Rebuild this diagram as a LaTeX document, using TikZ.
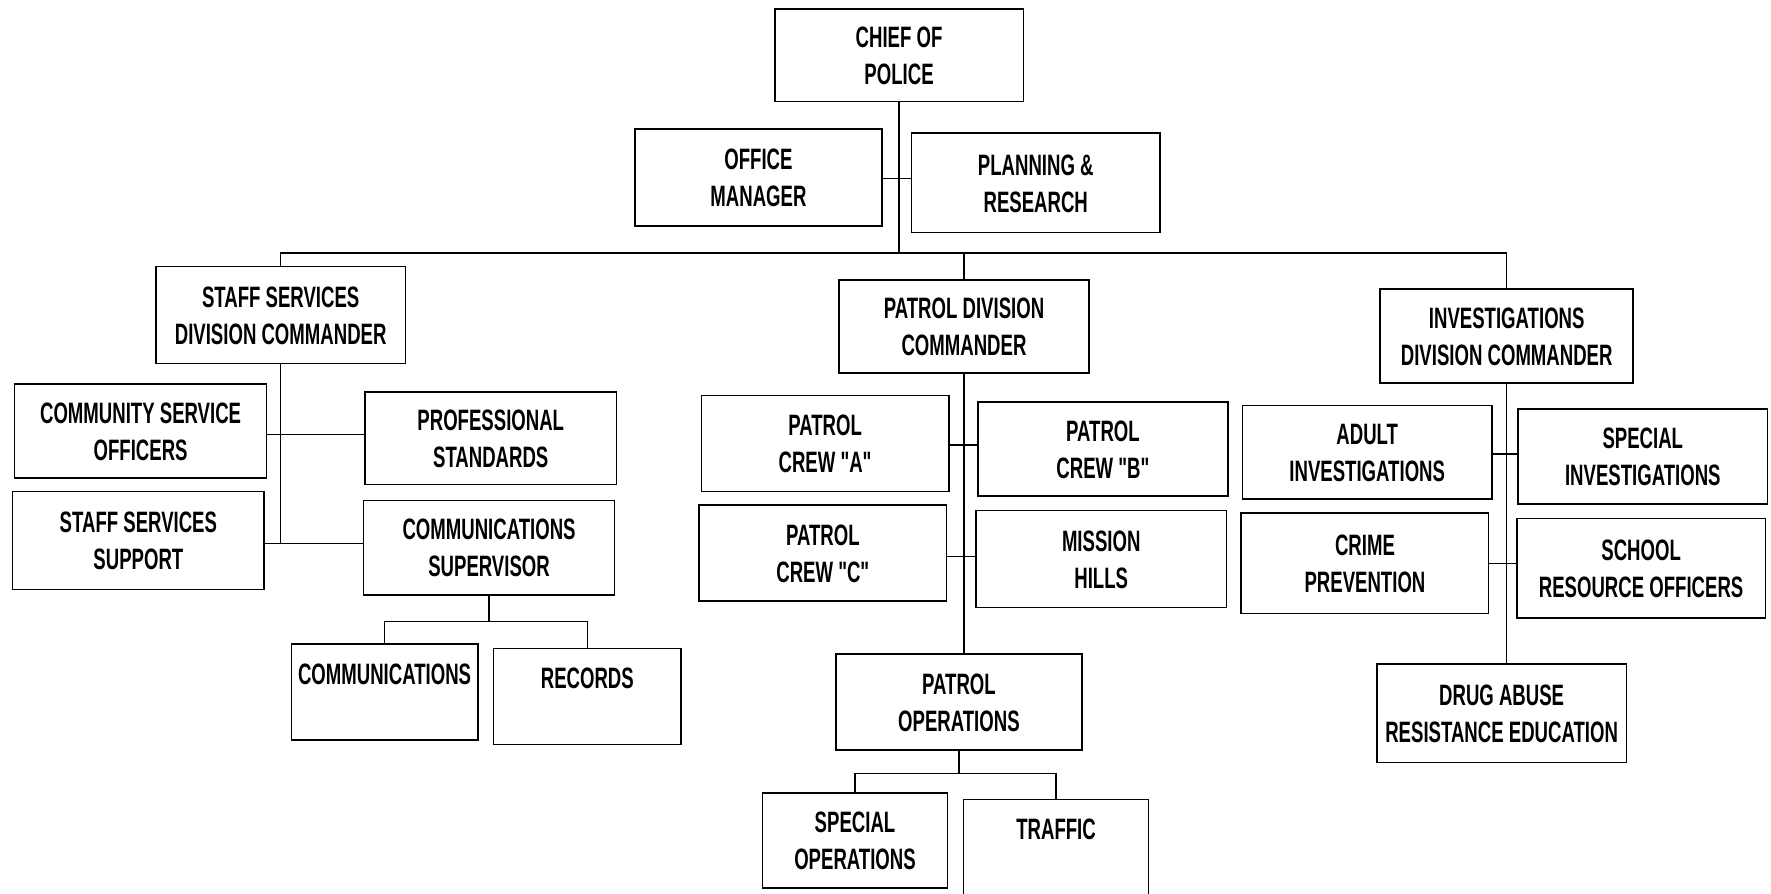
\documentclass[tikz,border=0pt]{standalone}
\usepackage{fontspec}
\newfontfamily\boxfont{Liberation Sans}[FakeStretch=0.63,Ligatures=TeXOff]
\usetikzlibrary{fit}
\newcommand{\orgbox}[4]{%
  \node[box, fit={#1 #2}] (#3) {};
  \node[txt] (#3-t) at ([yshift=-0.5pt]#3.center) {#4};}
\begin{document}
\begin{tikzpicture}[x=1.1295pt,y=-1.1295pt,
  box/.style={draw, line width=1.6pt, inner sep=0pt},
  txt/.style={inner sep=0pt, align=center,
    font=\boxfont\bfseries\fontsize{29.5}{37}\selectfont},
  conn/.style={line width=1.3pt}]
\useasboundingbox (0,0) rectangle (1568,791.5);
% boxes
\orgbox{(686,8)}{(906,90)}{chief}{CHIEF OF\\POLICE}
\orgbox{(562,114)}{(781,200)}{office}{OFFICE\\MANAGER}
\orgbox{(807,118)}{(1027,206)}{plan}{PLANNING \&\\RESEARCH}
\orgbox{(138,236)}{(359,322)}{staff}{STAFF SERVICES\\DIVISION COMMANDER}
\orgbox{(743,248)}{(964,330)}{patrol}{PATROL DIVISION\\COMMANDER}
\orgbox{(1222,256)}{(1446,339)}{inv}{INVESTIGATIONS\\DIVISION COMMANDER}
\orgbox{(13,340)}{(236,423)}{cso}{COMMUNITY SERVICE\\OFFICERS}
\orgbox{(323,347)}{(546,429)}{prof}{PROFESSIONAL\\STANDARDS}
\orgbox{(11,435)}{(234,522)}{sss}{STAFF SERVICES\\SUPPORT}
\orgbox{(322,443)}{(544,527)}{comsup}{COMMUNICATIONS\\SUPERVISOR}
\orgbox{(258,570)}{(423,655)}{comm}{COMMUNICATIONS\\\mbox{}}
\orgbox{(437,574)}{(603,659)}{rec}{RECORDS\\\mbox{}}
\orgbox{(621,350)}{(840,435)}{crewA}{PATROL\\CREW "A"}
\orgbox{(866,356)}{(1087,439)}{crewB}{PATROL\\CREW "B"}
\orgbox{(619,447)}{(838,532)}{crewC}{PATROL\\CREW "C"}
\orgbox{(864,452)}{(1086,538)}{mission}{MISSION\\HILLS}
\orgbox{(740,579)}{(958,664)}{pops}{PATROL\\OPERATIONS}
\orgbox{(675,702)}{(839,786)}{specops}{SPECIAL\\OPERATIONS}
\orgbox{(853,708)}{(1017,792)}{traffic}{TRAFFIC\\\mbox{}}
\orgbox{(1100,359)}{(1321,442)}{adult}{ADULT\\INVESTIGATIONS}
\orgbox{(1344,362)}{(1565,446)}{specinv}{SPECIAL\\INVESTIGATIONS}
\orgbox{(1099,454)}{(1318,543)}{crime}{CRIME\\PREVENTION}
\orgbox{(1343,459)}{(1563,547)}{school}{SCHOOL\\RESOURCE OFFICERS}
\orgbox{(1219,588)}{(1440,675)}{dare}{DRUG ABUSE\\RESISTANCE EDUCATION}
% junction coordinates
\coordinate (bus) at (796,224);
\coordinate (hub) at (796,158);
\coordinate (sj1) at (249,385);
\coordinate (sj2) at (249,481);
\coordinate (cj) at (433,550);
\coordinate (pj1) at (853,394);
\coordinate (pj2) at (853,493);
\coordinate (oj) at (848,685);
\coordinate (ij1) at (1334,402);
\coordinate (ij2) at (1334,499);
% connectors
\draw[conn] (chief.south) -- (bus);
\draw[conn] (office.east |- hub) -- (plan.west |- hub);
\draw[conn] (staff.north) |- (inv.north |- bus) -- (inv.north);
\draw[conn] (patrol.north) -- (patrol.north |- bus);
\draw[conn] (staff.south) -- (staff.south |- sj2);
\draw[conn] (cso.east |- sj1) -- (prof.west |- sj1);
\draw[conn] (sss.east |- sj2) -- (comsup.west |- sj2);
\draw[conn] (comsup.south) -- (comsup.south |- cj);
\draw[conn] (comm.north) |- (cj) -| (rec.north);
\draw[conn] (patrol.south) -- (patrol.south |- pops.north);
\draw[conn] (crewA.east |- pj1) -- (crewB.west |- pj1);
\draw[conn] (crewC.east |- pj2) -- (mission.west |- pj2);
\draw[conn] (pops.south) -- (pops.south |- oj);
\draw[conn] (specops.north) |- (oj) -| (traffic.north);
\draw[conn] (inv.south) -- (inv.south |- dare.north);
\draw[conn] (adult.east |- ij1) -- (specinv.west |- ij1);
\draw[conn] (crime.east |- ij2) -- (school.west |- ij2);
\end{tikzpicture}
\end{document}
